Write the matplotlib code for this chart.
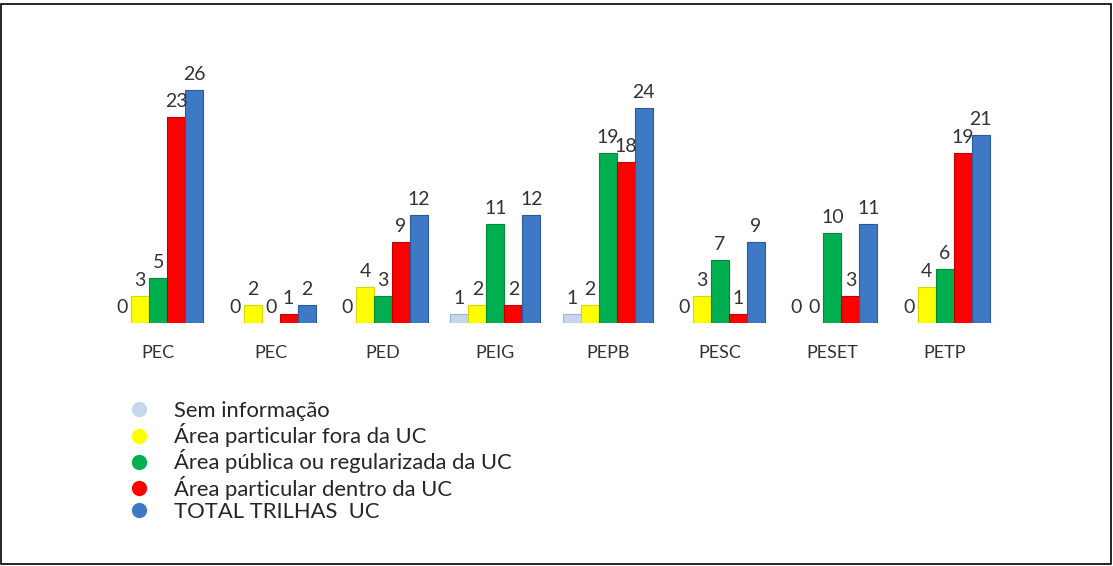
import numpy as np
import matplotlib.pyplot as plt
from matplotlib.lines import Line2D
from matplotlib.patches import Rectangle

plt.rcParams['font.family'] = ['Lato', 'DejaVu Sans']

categories = ["PEC", "PEC", "PED", "PEIG", "PEPB", "PESC", "PESET", "PETP"]
series_names = ["Sem informação",
                "Área particular fora da UC",
                "Área pública ou regularizada da UC",
                "Área particular dentro da UC",
                "TOTAL TRILHAS  UC"]
sem_info = [0, 0, 0, 1, 1, 0, 0, 0]
fora_uc = [3, 2, 4, 2, 2, 3, 0, 4]
publica_uc = [5, 0, 3, 11, 19, 7, 10, 6]
dentro_uc = [23, 1, 9, 2, 18, 1, 3, 19]
total_uc = [26, 2, 12, 12, 24, 9, 11, 21]

values = [sem_info, fora_uc, publica_uc, dentro_uc, total_uc]
colors = ["#c6d6ec", "#ffff00", "#00b050", "#ff0000", "#3f78c4"]
edges = ["#9fb3cf", "#d8d800", "#00873c", "#c00000", "#2a5a9a"]

fig = plt.figure(figsize=(11.13, 5.66), dpi=100)
ax = fig.add_axes([102 / 1113, (566 - 323) / 566, 899 / 1113, 269 / 566])

x = np.arange(len(categories))
w = 0.16
for i, (vals, c, ec) in enumerate(zip(values, colors, edges)):
    pos = x + (i - 2) * w
    for p, v in zip(pos, vals):
        if v > 0:
            ax.bar(p, v, width=w, color=c, edgecolor=ec, linewidth=0.8)
        ax.annotate(str(v), (p, v), xytext=(0, 5), textcoords="offset points",
                    ha="center", va="bottom", fontsize=14, color="#333333")

ax.set_xlim(-0.5, len(categories) - 0.5)
ax.set_ylim(0, 30)
ax.set_xticks(x)
ax.set_xticklabels(categories, fontsize=13, color="#333333")
ax.tick_params(axis="x", length=0, pad=16)
ax.set_yticks([])
for s in ax.spines.values():
    s.set_visible(False)

handles = [Line2D([], [], marker="o", linestyle="none", markersize=11,
                  markerfacecolor=c, markeredgecolor="none") for c in colors]
fig.legend(handles, series_names, loc="upper left",
           bbox_to_anchor=(117 / 1113, 1 - 401 / 566), frameon=False,
           fontsize=15.8, labelspacing=0.1, handletextpad=0.6,
           borderpad=0, borderaxespad=0, labelcolor="#262626")

fig.add_artist(Rectangle((0.001, 0.003), 0.997, 0.99, transform=fig.transFigure,
                         fill=False, edgecolor="black", linewidth=1.2))

fig.savefig("out.png", dpi=100)
